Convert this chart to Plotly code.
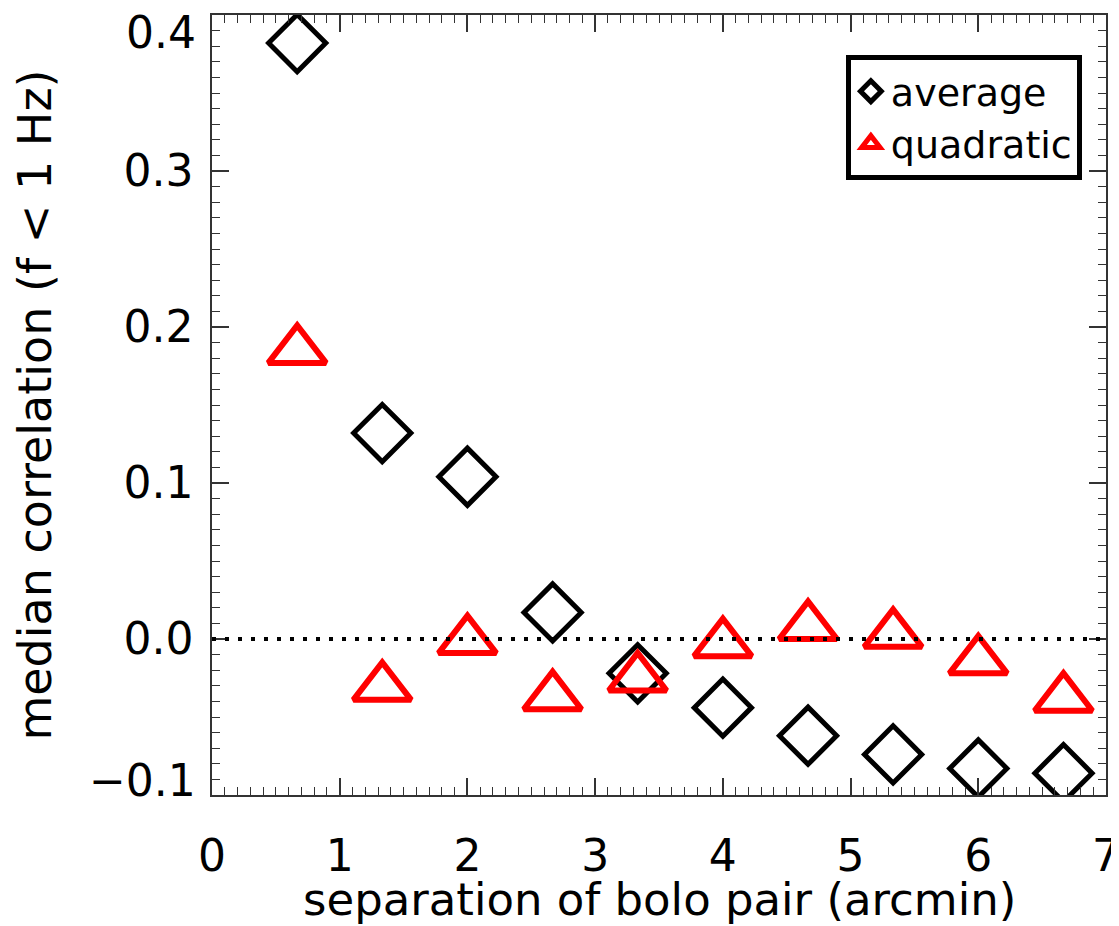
import plotly.graph_objects as go

# data
separation = [0.667, 1.333, 2.0, 2.667, 3.333, 4.0, 4.667, 5.333, 6.0, 6.667]
average = [0.382, 0.132, 0.104, 0.017, -0.022, -0.044, -0.062, -0.074, -0.083, -0.086]
quadratic = [0.185, -0.031, -0.001, -0.037, -0.025, -0.003, 0.008, 0.003, -0.014, -0.038]
x_ticks = [0, 1, 2, 3, 4, 5, 6, 7]
y_ticks = [-0.1, 0.0, 0.1, 0.2, 0.3, 0.4]

FONT = "DejaVu Sans"
AX = "#333333"

fig = go.Figure()
fig.add_trace(go.Scatter(
    x=separation, y=average, mode="markers", name="average",
    marker=dict(symbol="diamond-open", size=44, color="black",
                line=dict(width=5, color="black")),
))
fig.add_trace(go.Scatter(
    x=separation, y=quadratic, mode="markers", name="quadratic",
    marker=dict(symbol="triangle-up-open", size=50, color="red",
                line=dict(width=6, color="red")),
))

fig.add_shape(type="line", xref="paper", x0=0, x1=1, yref="y", y0=0, y1=0,
              line=dict(color="black", width=4, dash="4px,9px"))

axis_common = dict(
    showline=True, linecolor=AX, linewidth=1.5, mirror="allticks",
    ticks="inside", ticklen=17, tickwidth=1.5, tickcolor=AX,
    showgrid=False, zeroline=False, automargin=False,
    ticklabeloverflow="allow",
    tickfont=dict(family=FONT, size=44, color="black"),
)

fig.update_xaxes(
    range=[0, 7], tickvals=x_ticks, ticktext=[str(v) for v in x_ticks],
    minor=dict(dtick=0.1, ticklen=8, tickwidth=1.2, tickcolor=AX, ticks="inside"),
    ticklabelstandoff=21,
    **axis_common,
)

# end labels of the y axis sit slightly inside the frame, as in the reference
def ylab(v):
    return f"{v:.1f}".replace("-", "\u2212")

ytext = [ylab(v) if v not in (y_ticks[0], y_ticks[-1]) else "" for v in y_ticks]
fig.update_yaxes(
    range=[-0.1, 0.4], tickvals=y_ticks, ticktext=ytext,
    minor=dict(dtick=0.01, ticklen=8, tickwidth=1.2, tickcolor=AX, ticks="inside"),
    title=dict(text="median correlation (f < 1 Hz)",
               font=dict(family=FONT, size=46, color="black"), standoff=59),
    ticklabelstandoff=8,
    **axis_common,
)
for v, shift in ((y_ticks[-1], -17), (y_ticks[0], 15)):
    fig.add_annotation(xref="paper", x=0, yref="y", y=v, text=ylab(v),
                       showarrow=False, xanchor="right", yanchor="middle",
                       xshift=-14, yshift=shift,
                       font=dict(family=FONT, size=44, color="black"))

fig.add_annotation(xref="paper", x=0.5, yref="paper", y=-0.1345,
                   text="separation of bolo pair (arcmin)", showarrow=False,
                   xanchor="center", yanchor="middle",
                   font=dict(family=FONT, size=45, color="black"))

fig.update_layout(
    width=1111, height=918,
    margin=dict(l=204, r=13, t=7, b=131),
    paper_bgcolor="white", plot_bgcolor="white",
    font=dict(family=FONT, color="black"),
    legend=dict(
        x=0.973, y=0.9487, xanchor="right", yanchor="top",
        bgcolor="white", bordercolor="black", borderwidth=5,
        font=dict(family=FONT, size=38, color="black"),
        itemsizing="trace",
    ),
)

fig.write_html("out.html")
